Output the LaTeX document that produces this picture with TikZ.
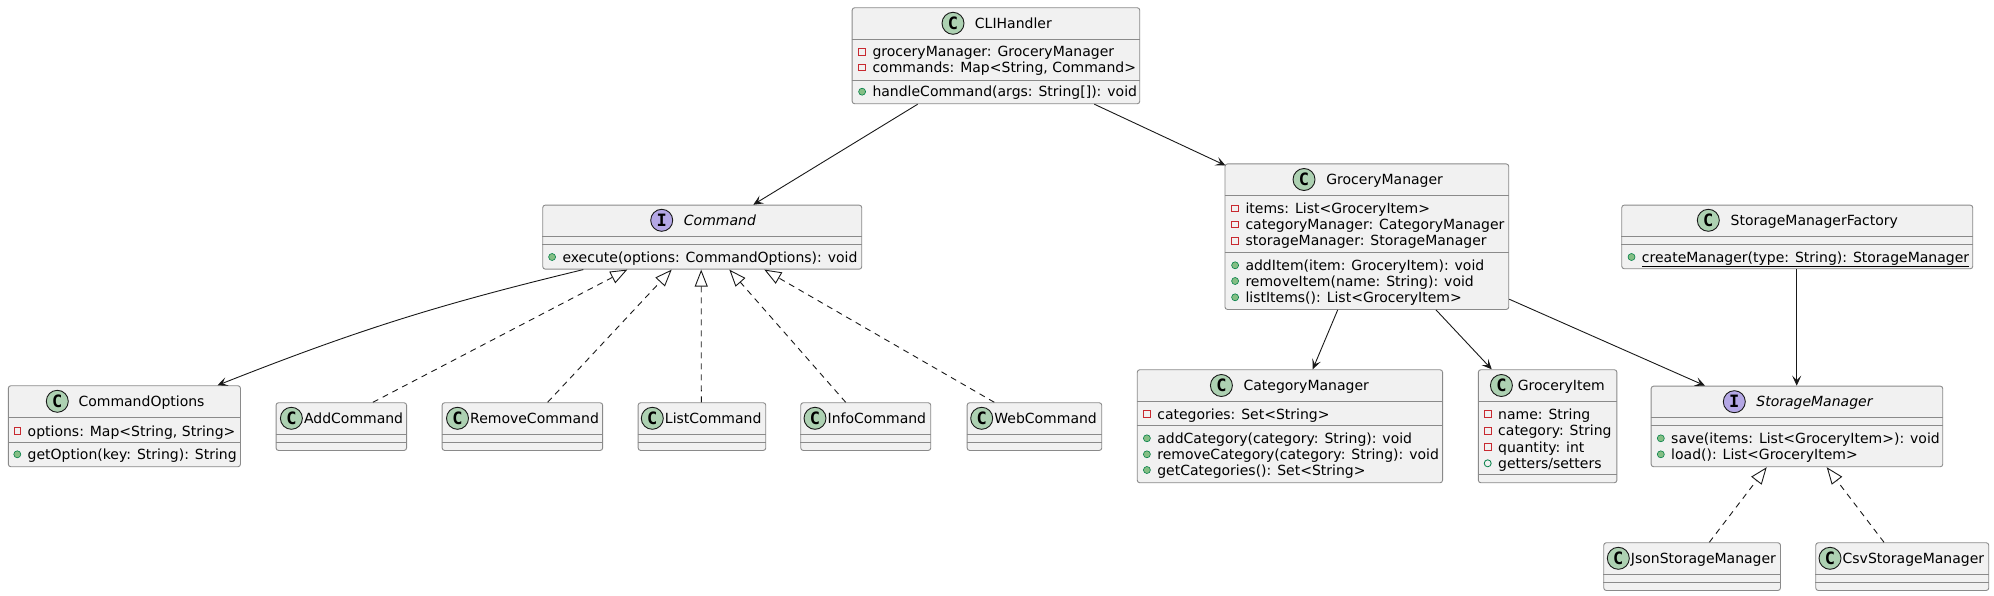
\documentclass[tikz,border=0pt]{standalone}
\usepackage{fontspec}
\setmainfont{DejaVu Sans}
\newfontfamily\iconfont{DejaVu Sans Mono}
\usetikzlibrary{arrows.meta,positioning}
\definecolor{umlfill}{HTML}{F1F1F1}
\definecolor{umlborder}{HTML}{8A8A8A}
\definecolor{classgreen}{HTML}{ADD1B2}
\definecolor{ifacepurple}{HTML}{B4A7E5}
\definecolor{privred}{HTML}{C82930}
\definecolor{pubgreen}{HTML}{038048}
\definecolor{pubfill}{HTML}{84BE84}
\begin{document}
\begin{tikzpicture}[x=1pt,y=-1pt,font=\fontsize{14}{16}\selectfont,
    box/.style={draw=umlborder,fill=umlfill,rounded corners=2.5pt,line width=0.9pt,inner sep=0pt,anchor=north west},
    sep/.style={draw=umlborder,line width=0.9pt},
    cicon/.style={circle,draw=black!90,fill=classgreen,line width=0.9pt,minimum size=22pt,inner sep=0pt,font=\fontsize{17}{17}\iconfont\bfseries},
    iicon/.style={cicon,fill=ifacepurple},
    title/.style={anchor=west,inner sep=0pt,text height=10pt,text depth=0pt},
    member/.style={anchor=west,inner sep=0pt,text height=10pt,text depth=0pt},
    priv/.style={rectangle,draw=privred,line width=0.8pt,minimum size=6.5pt,inner sep=0pt,xshift=-6.6pt},
    pub/.style={circle,draw=pubgreen,fill=pubfill,line width=0.6pt,minimum size=7pt,inner sep=0pt,xshift=-6.4pt},
    pubf/.style={circle,draw=pubgreen,line width=0.8pt,minimum size=7pt,inner sep=0pt,xshift=-6.4pt},
    fpriv/.style={member,label={[priv]left:{}}},
    mpub/.style={member,label={[pub]left:{}}},
    fpub/.style={member,label={[pubf]left:{}}},
    assoc/.style={draw=black!90,line width=0.9pt,-{Stealth[length=10pt,width=9pt,inset=4.5pt]}},
    real/.style={draw=black!90,line width=0.9pt,dash pattern=on 6pt off 5pt,-{Triangle[open,length=17pt,width=13pt,line width=0.9pt]}}]
\useasboundingbox (0,0) rectangle (1994,596);

% CLIHandler
\node[box,minimum width=287.6pt,minimum height=96pt] (cli) at (851.7,7.3) {};
\draw[sep] ([yshift=-32pt]cli.north west) -- ([yshift=-32pt]cli.north east);
\draw[sep] ([yshift=-72.7pt]cli.north west) -- ([yshift=-72.7pt]cli.north east);
\node[cicon] (cli-i) at (953,23.3) {C};
\node[title,right=10.3pt of cli-i] (cli-t) {CLIHandler};
\node[fpriv] (cli-a1) at (872.3,51.7) {groceryManager: GroceryManager};
\node[fpriv] (cli-a2) at (872.3,67.3) {commands: Map<String, Command>};
\node[mpub] (cli-m1) at (872.3,91.7) {handleCommand(args: String[]): void};

% Command
\node[box,minimum width=319pt,minimum height=64pt] (cmd) at (542.3,204.7) {};
\draw[sep] ([yshift=-32pt]cmd.north west) -- ([yshift=-32pt]cmd.north east);
\draw[sep] ([yshift=-39.6pt]cmd.north west) -- ([yshift=-39.6pt]cmd.north east);
\node[iicon] (cmd-i) at (661.7,220.3) {I};
\node[title,right=10.6pt of cmd-i] (cmd-t) {\itshape Command};
\node[mpub] (cmd-m1) at (562.3,257) {execute(options: CommandOptions): void};

% GroceryManager
\node[box,minimum width=283.8pt,minimum height=145.5pt] (gm) at (1224.5,163.5) {};
\draw[sep] ([yshift=-31.8pt]gm.north west) -- ([yshift=-31.8pt]gm.north east);
\draw[sep] ([yshift=-88.8pt]gm.north west) -- ([yshift=-88.8pt]gm.north east);
\node[cicon] (gm-i) at (1304,179.5) {C};
\node[title,right=10.7pt of gm-i] (gm-t) {GroceryManager};
\node[fpriv] (gm-a1) at (1245.3,208.3) {items: List<GroceryItem>};
\node[fpriv] (gm-a2) at (1245.3,224.3) {categoryManager: CategoryManager};
\node[fpriv] (gm-a3) at (1245.3,240.7) {storageManager: StorageManager};
\node[mpub] (gm-m1) at (1245.3,265.3) {addItem(item: GroceryItem): void};
\node[mpub] (gm-m2) at (1245.3,281) {removeItem(name: String): void};
\node[mpub] (gm-m3) at (1245.3,297.3) {listItems(): List<GroceryItem>};

% StorageManagerFactory
\node[box,minimum width=351pt,minimum height=63.6pt] (smf) at (1621.3,204.7) {};
\draw[sep] ([yshift=-31.6pt]smf.north west) -- ([yshift=-31.6pt]smf.north east);
\draw[sep] ([yshift=-39.6pt]smf.north west) -- ([yshift=-39.6pt]smf.north east);
\node[cicon] (smf-i) at (1708.3,220.3) {C};
\node[title,right=10.7pt of smf-i] (smf-t) {StorageManagerFactory};
\node[mpub] (smf-m1) at (1641.7,257) {\underline{createManager(type: String): StorageManager}};

% StorageManager
\node[box,minimum width=291.6pt,minimum height=80.6pt] (sm) at (1650.7,385.7) {};
\draw[sep] ([yshift=-32pt]sm.north west) -- ([yshift=-32pt]sm.north east);
\draw[sep] ([yshift=-40pt]sm.north west) -- ([yshift=-40pt]sm.north east);
\node[iicon] (sm-i) at (1734.3,401.7) {I};
\node[title,right=10.4pt of sm-i] (sm-t) {\itshape StorageManager};
\node[mpub] (sm-m1) at (1671,438.3) {save(items: List<GroceryItem>): void};
\node[mpub] (sm-m2) at (1671,454.3) {load(): List<GroceryItem>};

% CategoryManager
\node[box,minimum width=305.3pt,minimum height=113pt] (catm) at (1136.8,369.3) {};
\draw[sep] ([yshift=-32.4pt]catm.north west) -- ([yshift=-32.4pt]catm.north east);
\draw[sep] ([yshift=-56.4pt]catm.north west) -- ([yshift=-56.4pt]catm.north east);
\node[cicon] (catm-i) at (1221.4,385.5) {C};
\node[title,right=10.5pt of catm-i] (catm-t) {CategoryManager};
\node[fpriv] (catm-a1) at (1157.1,414) {categories: Set<String>};
\node[mpub] (catm-m1) at (1157.1,438.3) {addCategory(category: String): void};
\node[mpub] (catm-m2) at (1157.1,454.3) {removeCategory(category: String): void};
\node[mpub] (catm-m3) at (1157.1,470) {getCategories(): Set<String>};

% GroceryItem
\node[box,minimum width=138.5pt,minimum height=113pt] (gi) at (1477.9,369.3) {};
\draw[sep] ([yshift=-32.4pt]gi.north west) -- ([yshift=-32.4pt]gi.north east);
\draw[sep] ([yshift=-105pt]gi.north west) -- ([yshift=-105pt]gi.north east);
\node[cicon] (gi-i) at (1501.4,385.5) {C};
\node[title,right=4.7pt of gi-i] (gi-t) {GroceryItem};
\node[fpriv] (gi-a1) at (1498,414) {name: String};
\node[fpriv] (gi-a2) at (1498,430.7) {category: String};
\node[fpriv] (gi-a3) at (1498,447) {quantity: int};
\node[fpub] (gi-a4) at (1498,463.3) {getters/setters};

% CommandOptions
\node[box,minimum width=232.1pt,minimum height=81pt] (copt) at (7.9,385.3) {};
\draw[sep] ([yshift=-31.7pt]copt.north west) -- ([yshift=-31.7pt]copt.north east);
\draw[sep] ([yshift=-56.7pt]copt.north west) -- ([yshift=-56.7pt]copt.north east);
\node[cicon] (copt-i) at (57.3,401.3) {C};
\node[title,right=9.6pt of copt-i] (copt-t) {CommandOptions};
\node[fpriv] (copt-a1) at (27.5,431) {options: Map<String, String>};
\node[mpub] (copt-m1) at (27.5,454.3) {getOption(key: String): String};

% command implementations
\node[box,minimum width=130.5pt,minimum height=47.7pt] (addc) at (275.6,402.3) {};
\draw[sep] ([yshift=-32pt]addc.north west) -- ([yshift=-32pt]addc.north east);
\draw[sep] ([yshift=-39.7pt]addc.north west) -- ([yshift=-39.7pt]addc.north east);
\node[cicon] (addc-i) at (291.4,418.3) {C};
\node[title,right=1pt of addc-i] (addc-t) {AddCommand};

\node[box,minimum width=160.5pt,minimum height=47.7pt] (remc) at (441.7,402.3) {};
\draw[sep] ([yshift=-32pt]remc.north west) -- ([yshift=-32pt]remc.north east);
\draw[sep] ([yshift=-39.7pt]remc.north west) -- ([yshift=-39.7pt]remc.north east);
\node[cicon] (remc-i) at (457.5,418.3) {C};
\node[title,right=1pt of remc-i] (remc-t) {RemoveCommand};

\node[box,minimum width=127.6pt,minimum height=47.7pt] (lstc) at (637.7,402.3) {};
\draw[sep] ([yshift=-32pt]lstc.north west) -- ([yshift=-32pt]lstc.north east);
\draw[sep] ([yshift=-39.7pt]lstc.north west) -- ([yshift=-39.7pt]lstc.north east);
\node[cicon] (lstc-i) at (652.3,418.3) {C};
\node[title,right=1pt of lstc-i] (lstc-t) {ListCommand};

\node[box,minimum width=130pt,minimum height=47.7pt] (infc) at (800.3,402.3) {};
\draw[sep] ([yshift=-32pt]infc.north west) -- ([yshift=-32pt]infc.north east);
\draw[sep] ([yshift=-39.7pt]infc.north west) -- ([yshift=-39.7pt]infc.north east);
\node[cicon] (infc-i) at (815,418.3) {C};
\node[title,right=1pt of infc-i] (infc-t) {InfoCommand};

\node[box,minimum width=134.6pt,minimum height=47.7pt] (webc) at (966.7,402.3) {};
\draw[sep] ([yshift=-32pt]webc.north west) -- ([yshift=-32pt]webc.north east);
\draw[sep] ([yshift=-39.7pt]webc.north west) -- ([yshift=-39.7pt]webc.north east);
\node[cicon] (webc-i) at (981.7,418.3) {C};
\node[title,right=1pt of webc-i] (webc-t) {WebCommand};

% storage implementations
\node[box,minimum width=176.7pt,minimum height=47.7pt] (jsm) at (1603.3,542.3) {};
\draw[sep] ([yshift=-32pt]jsm.north west) -- ([yshift=-32pt]jsm.north east);
\draw[sep] ([yshift=-40pt]jsm.north west) -- ([yshift=-40pt]jsm.north east);
\node[cicon] (jsm-i) at (1618.3,558.3) {C};
\node[title,right=1pt of jsm-i] (jsm-t) {JsonStorageManager};

\node[box,minimum width=173pt,minimum height=47.7pt] (csm) at (1815.3,542.3) {};
\draw[sep] ([yshift=-32pt]csm.north west) -- ([yshift=-32pt]csm.north east);
\draw[sep] ([yshift=-40pt]csm.north west) -- ([yshift=-40pt]csm.north east);
\node[cicon] (csm-i) at (1830,558.3) {C};
\node[title,right=1pt of csm-i] (csm-t) {CsvStorageManager};

% associations
\draw[assoc] ([xshift=66pt]cli.south west) -- ([xshift=211pt]cmd.north west);
\draw[assoc] ([xshift=242.6pt]cli.south west) -- ([xshift=1pt,yshift=-2pt]gm.north west);
\draw[assoc] ([xshift=41pt]cmd.south west) to[bend right=4] ([xshift=209.6pt]copt.north west);
\draw[assoc] ([xshift=113.2pt]gm.south west) -- ([xshift=175.9pt]catm.north west);
\draw[assoc] ([xshift=211.5pt]gm.south west) -- ([xshift=13.8pt]gi.north west);
\draw[assoc] ([yshift=10.7pt]gm.south east) -- ([xshift=54.3pt]sm.north west);
\draw[assoc] ([xshift=175.4pt]smf.south west) -- ([xshift=146pt]sm.north west);

% realizations
\draw[real] ([xshift=97.3pt]addc.north west) -- ([xshift=85pt]cmd.south west);
\draw[real] ([xshift=105.9pt]remc.north west) -- ([xshift=129.4pt]cmd.south west);
\draw[real] ([xshift=63.6pt]lstc.north west) -- ([xshift=158.9pt]cmd.south west);
\draw[real] ([xshift=45.4pt]infc.north west) -- ([xshift=187pt]cmd.south west);
\draw[real] ([xshift=27.6pt]webc.north west) -- ([xshift=222pt]cmd.south west);
\draw[real] ([xshift=106pt]jsm.north west) -- ([xshift=116pt]sm.south west);
\draw[real] ([xshift=68.7pt]csm.north west) -- ([xshift=176pt]sm.south west);
\end{tikzpicture}
\end{document}
